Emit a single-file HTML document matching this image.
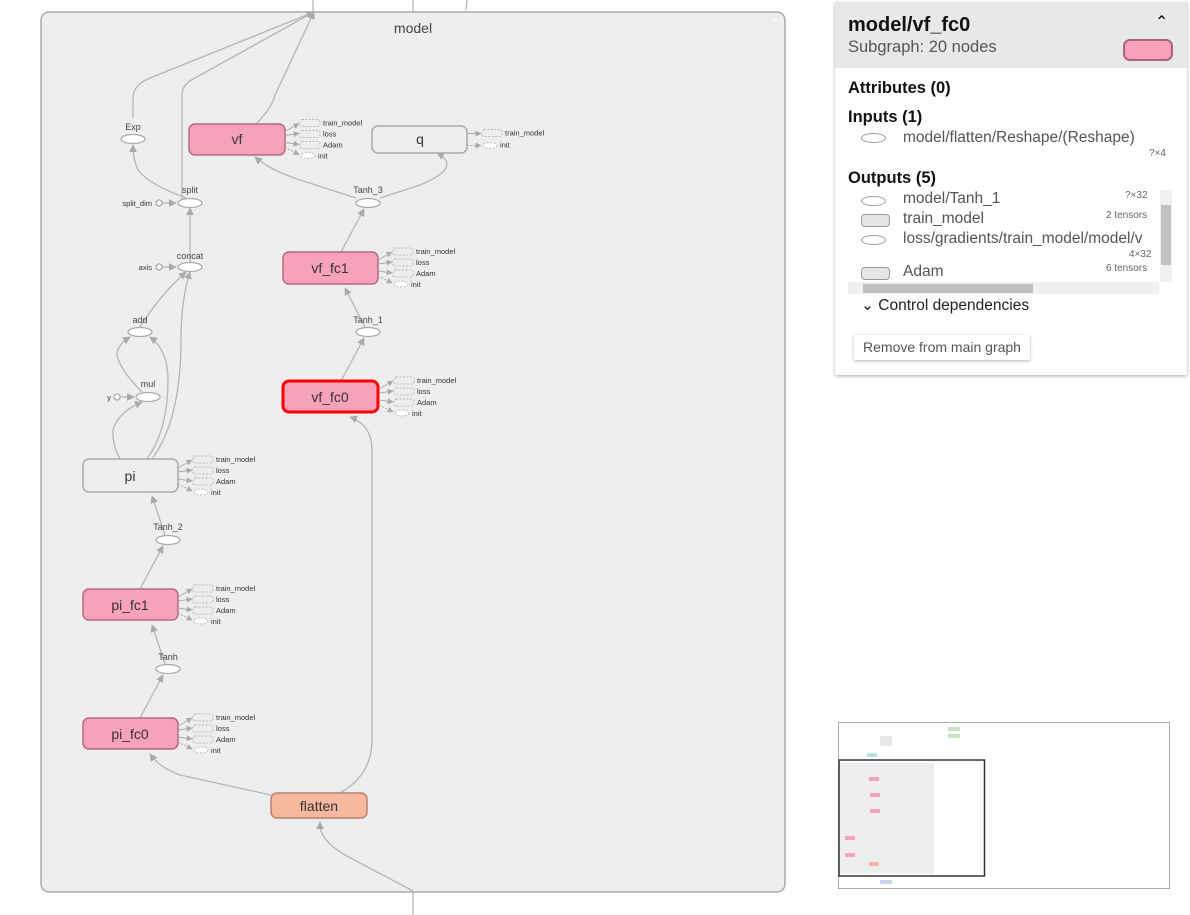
<!DOCTYPE html>
<html><head><meta charset="utf-8"><style>
body{margin:0;width:1190px;height:915px;overflow:hidden;background:#fff;font-family:"Liberation Sans",sans-serif;position:relative}
svg{position:absolute;left:0;top:0}
.panel{position:absolute;left:835px;top:2px;width:352px;height:373px;background:#fff;box-shadow:0 1px 3px rgba(0,0,0,.35);}
.hdr{background:#e8e8e8;height:66px;position:relative}
.t1{position:absolute;left:13px;top:12px;font-size:20px;font-weight:bold;color:#111}
.t2{position:absolute;left:13px;top:36px;font-size:16.5px;color:#555}
.sw{position:absolute;left:288px;top:37px;width:46px;height:18px;background:#f7a1bb;border:2px solid #a8677a;border-radius:7px}
.car{position:absolute;left:320px;top:10px;font-size:16px}
.h{position:absolute;left:13px;font-size:16.5px;font-weight:bold;color:#111}
.r{position:absolute;font-size:15.5px;color:#555}
.s{position:absolute;font-size:10px;color:#666}
.el{position:absolute;width:23px;height:8px;border:1px solid #999;border-radius:50%}
.rr{position:absolute;width:27px;height:11px;border:1px solid #999;border-radius:4px;background:#e6e6e6}
</style></head><body>
<svg width="1190" height="915" viewBox="0 0 1190 915">
<defs><marker id="a" viewBox="0 0 10 10" refX="9" refY="5" markerWidth="6" markerHeight="6" orient="auto"><path d="M0,0L10,5L0,10z" fill="#aaa"/></marker></defs>
<rect x="41" y="12" width="744" height="880" rx="8" fill="#eee" stroke="#aaa" stroke-width="1.5"/>
<text x="413" y="33" font-size="14" fill="#444" text-anchor="middle">model</text>
<line x1="772" y1="20" x2="778" y2="20" stroke="#fff"/>
<g fill="none" stroke="#b5b5b5" stroke-width="1.3">
<line x1="313" y1="0" x2="313" y2="12"/><line x1="413" y1="0" x2="413" y2="12"/><line x1="467" y1="0" x2="466" y2="10"/>
<path d="M133,118 L133,98 Q133,85 150,78 L314,12" marker-end="url(#a)"/>
<path d="M182,200 L182,95 Q182,84 195,78 L314,12" marker-end="url(#a)"/>
<path d="M256,124 Q272,108 275,95 L314,12" marker-end="url(#a)"/>
<path d="M186,198 Q150,185 138,170 Q133,160 133,145" marker-end="url(#a)"/>
<path d="M190,262 L190,208" marker-end="url(#a)"/>
<path d="M140,327 Q160,295 186,272" marker-end="url(#a)"/>
<path d="M152,459 Q181,420 181,340 Q181,300 190,272" marker-end="url(#a)"/>
<path d="M147,459 Q168,430 168,380 Q168,350 150,337" marker-end="url(#a)"/>
<path d="M142,392 Q120,370 117,355 Q117,345 130,337" marker-end="url(#a)"/>
<path d="M120,459 Q112,445 113,430 Q118,412 142,402" marker-end="url(#a)"/>
<path d="M165,535 L152,496" marker-end="url(#a)"/>
<path d="M140,589 L163,546" marker-end="url(#a)"/>
<path d="M165,664 L152,625" marker-end="url(#a)"/>
<path d="M140,718 L163,675" marker-end="url(#a)"/>
<path d="M271,795 L180,775 Q160,768 150,754" marker-end="url(#a)"/>
<path d="M340,793 Q372,775 372,740 L372,450 Q372,425 350,417" marker-end="url(#a)"/>
<path d="M413,915 L413,891 L345,855 Q320,840 320,825 L320,822" marker-end="url(#a)"/>
<path d="M341,381 L364,338" marker-end="url(#a)"/>
<path d="M365,327 L345,288" marker-end="url(#a)"/>
<path d="M341,252 L364,209" marker-end="url(#a)"/>
<path d="M356,198 L300,180 Q270,170 255,157" marker-end="url(#a)"/>
<path d="M380,198 L420,185 Q445,175 447,165 Q447,158 437,153" marker-end="url(#a)"/>
<line x1="162" y1="203" x2="176" y2="203" marker-end="url(#a)"/>
<line x1="162" y1="267" x2="176" y2="267" marker-end="url(#a)"/>
<line x1="120" y1="397" x2="134" y2="397" marker-end="url(#a)"/>
</g>
<g font-size="9" fill="#444" text-anchor="middle">
<text x="133" y="130">Exp</text><text x="190" y="193">split</text><text x="190" y="259">concat</text>
<text x="140" y="323">add</text><text x="148" y="387">mul</text><text x="368" y="193">Tanh_3</text>
<text x="368" y="323">Tanh_1</text><text x="168" y="530">Tanh_2</text><text x="168" y="660">Tanh</text>
</g>
<g font-size="7.5" fill="#333" text-anchor="end">
<text x="152" y="206">split_dim</text><text x="152" y="270">axis</text><text x="111" y="400">y</text>
</g>
<g fill="#fff" stroke="#aaa" stroke-width="1.3">
<ellipse cx="133" cy="139" rx="12" ry="4.5"/><ellipse cx="190" cy="203" rx="12" ry="4.5"/>
<ellipse cx="190" cy="267" rx="12" ry="4.5"/><ellipse cx="140" cy="332" rx="12" ry="4.5"/>
<ellipse cx="148" cy="397" rx="12" ry="4.5"/><ellipse cx="368" cy="203" rx="12" ry="4.5"/>
<ellipse cx="368" cy="332" rx="12" ry="4.5"/><ellipse cx="168" cy="540" rx="12" ry="4.5"/>
<ellipse cx="168" cy="669" rx="12" ry="4.5"/>
<circle cx="159" cy="203" r="3"/><circle cx="159" cy="267" r="3"/><circle cx="117" cy="397" r="3"/>
</g>
<g stroke-width="1.5">
<rect x="189" y="124" width="96" height="31" rx="6" fill="#f8a1bb" stroke="#b06a7e"/>
<rect x="372" y="126" width="95" height="27" rx="6" fill="#eee" stroke="#aaa"/>
<rect x="283" y="252" width="95" height="32" rx="6" fill="#f8a1bb" stroke="#b06a7e"/>
<rect x="283" y="381" width="95" height="31" rx="6" fill="#f8a1bb" stroke="#f00" stroke-width="3"/>
<rect x="83" y="459" width="95" height="33" rx="6" fill="#eee" stroke="#aaa"/>
<rect x="83" y="589" width="95" height="31" rx="6" fill="#f8a1bb" stroke="#b06a7e"/>
<rect x="83" y="718" width="95" height="31" rx="6" fill="#f8a1bb" stroke="#b06a7e"/>
<rect x="271" y="793" width="96" height="25" rx="6" fill="#f7b8a0" stroke="#b98070"/>
</g>
<g font-size="14" fill="#333" text-anchor="middle">
<text x="237" y="144">vf</text><text x="420" y="144">q</text><text x="330" y="273">vf_fc1</text>
<text x="330" y="402">vf_fc0</text><text x="130" y="481">pi</text><text x="130" y="610">pi_fc1</text>
<text x="130" y="739">pi_fc0</text><text x="319" y="811">flatten</text>
</g>
<!-- annotations -->
<g font-size="7.5" fill="#333" stroke-width="1">
<g transform="translate(285,139.5)">
<g fill="none" stroke="#bbb" stroke-dasharray="2,1.5"><rect x="15" y="-20" width="20" height="7" rx="2"/><rect x="15" y="-9" width="20" height="7" rx="2"/><rect x="15" y="2" width="20" height="7" rx="2"/><ellipse cx="23" cy="16" rx="7" ry="3" fill="#fff"/></g>
<g stroke="#aaa" marker-end="url(#a)"><line x1="0" y1="-8" x2="14" y2="-16"/><line x1="0" y1="-4" x2="14" y2="-6"/><line x1="0" y1="3" x2="14" y2="5"/><line x1="0" y1="8" x2="14" y2="15" stroke-dasharray="2,1.5"/></g>
<text x="38" y="-14">train_model</text><text x="38" y="-3">loss</text><text x="38" y="8">Adam</text><text x="33" y="19">init</text></g>
<g transform="translate(378,268)">
<g fill="none" stroke="#bbb" stroke-dasharray="2,1.5"><rect x="15" y="-20" width="20" height="7" rx="2"/><rect x="15" y="-9" width="20" height="7" rx="2"/><rect x="15" y="2" width="20" height="7" rx="2"/><ellipse cx="23" cy="16" rx="7" ry="3" fill="#fff"/></g>
<g stroke="#aaa" marker-end="url(#a)"><line x1="0" y1="-8" x2="14" y2="-16"/><line x1="0" y1="-4" x2="14" y2="-6"/><line x1="0" y1="3" x2="14" y2="5"/><line x1="0" y1="8" x2="14" y2="15" stroke-dasharray="2,1.5"/></g>
<text x="38" y="-14">train_model</text><text x="38" y="-3">loss</text><text x="38" y="8">Adam</text><text x="33" y="19">init</text></g>
<g transform="translate(379,397)">
<g fill="none" stroke="#bbb" stroke-dasharray="2,1.5"><rect x="15" y="-20" width="20" height="7" rx="2"/><rect x="15" y="-9" width="20" height="7" rx="2"/><rect x="15" y="2" width="20" height="7" rx="2"/><ellipse cx="23" cy="16" rx="7" ry="3" fill="#fff"/></g>
<g stroke="#aaa" marker-end="url(#a)"><line x1="0" y1="-8" x2="14" y2="-16"/><line x1="0" y1="-4" x2="14" y2="-6"/><line x1="0" y1="3" x2="14" y2="5"/><line x1="0" y1="8" x2="14" y2="15" stroke-dasharray="2,1.5"/></g>
<text x="38" y="-14">train_model</text><text x="38" y="-3">loss</text><text x="38" y="8">Adam</text><text x="33" y="19">init</text></g>
<g transform="translate(178,476)">
<g fill="none" stroke="#bbb" stroke-dasharray="2,1.5"><rect x="15" y="-20" width="20" height="7" rx="2"/><rect x="15" y="-9" width="20" height="7" rx="2"/><rect x="15" y="2" width="20" height="7" rx="2"/><ellipse cx="23" cy="16" rx="7" ry="3" fill="#fff"/></g>
<g stroke="#aaa" marker-end="url(#a)"><line x1="0" y1="-8" x2="14" y2="-16"/><line x1="0" y1="-4" x2="14" y2="-6"/><line x1="0" y1="3" x2="14" y2="5"/><line x1="0" y1="8" x2="14" y2="15" stroke-dasharray="2,1.5"/></g>
<text x="38" y="-14">train_model</text><text x="38" y="-3">loss</text><text x="38" y="8">Adam</text><text x="33" y="19">init</text></g>
<g transform="translate(178,605)">
<g fill="none" stroke="#bbb" stroke-dasharray="2,1.5"><rect x="15" y="-20" width="20" height="7" rx="2"/><rect x="15" y="-9" width="20" height="7" rx="2"/><rect x="15" y="2" width="20" height="7" rx="2"/><ellipse cx="23" cy="16" rx="7" ry="3" fill="#fff"/></g>
<g stroke="#aaa" marker-end="url(#a)"><line x1="0" y1="-8" x2="14" y2="-16"/><line x1="0" y1="-4" x2="14" y2="-6"/><line x1="0" y1="3" x2="14" y2="5"/><line x1="0" y1="8" x2="14" y2="15" stroke-dasharray="2,1.5"/></g>
<text x="38" y="-14">train_model</text><text x="38" y="-3">loss</text><text x="38" y="8">Adam</text><text x="33" y="19">init</text></g>
<g transform="translate(178,734)">
<g fill="none" stroke="#bbb" stroke-dasharray="2,1.5"><rect x="15" y="-20" width="20" height="7" rx="2"/><rect x="15" y="-9" width="20" height="7" rx="2"/><rect x="15" y="2" width="20" height="7" rx="2"/><ellipse cx="23" cy="16" rx="7" ry="3" fill="#fff"/></g>
<g stroke="#aaa" marker-end="url(#a)"><line x1="0" y1="-8" x2="14" y2="-16"/><line x1="0" y1="-4" x2="14" y2="-6"/><line x1="0" y1="3" x2="14" y2="5"/><line x1="0" y1="8" x2="14" y2="15" stroke-dasharray="2,1.5"/></g>
<text x="38" y="-14">train_model</text><text x="38" y="-3">loss</text><text x="38" y="8">Adam</text><text x="33" y="19">init</text></g>
<g transform="translate(467,139.5)">
<g fill="none" stroke="#bbb" stroke-dasharray="2,1.5"><rect x="15" y="-10" width="20" height="7" rx="2"/><ellipse cx="23" cy="6" rx="7" ry="3" fill="#fff"/></g>
<g stroke="#aaa" marker-end="url(#a)"><line x1="0" y1="-6" x2="14" y2="-6"/><line x1="0" y1="6" x2="14" y2="6" stroke-dasharray="2,1.5"/></g>
<text x="38" y="-4">train_model</text><text x="33" y="8">init</text></g>
</g>
<!-- minimap -->
<rect x="838.5" y="722.5" width="331" height="166" fill="#fff" stroke="#aaa"/>
<rect x="839" y="763" width="95" height="111" fill="#eee"/>
<g fill="#f8a1bb"><rect x="869" y="777" width="10" height="4"/><rect x="870" y="793" width="10" height="4"/><rect x="870" y="809" width="10" height="4"/><rect x="845" y="836" width="10" height="4"/><rect x="845" y="853" width="10" height="4"/></g>
<rect x="869" y="862" width="10" height="4" fill="#f7b8a0"/>
<rect x="867" y="753" width="10" height="4" fill="#b8dede"/>
<rect x="880" y="880" width="12" height="4" fill="#c8d4ec"/>
<rect x="948" y="727" width="12" height="4" fill="#c8e4c0"/><rect x="948" y="734" width="12" height="4" fill="#c8e4c0"/>
<rect x="880" y="736" width="12" height="10" fill="#e8e8e8"/>
<rect x="839" y="760" width="145.5" height="116" fill="none" stroke="#333" stroke-width="1.5"/>
</svg>
<div class="panel">
<div class="hdr"><div class="t1">model/vf_fc0</div><div class="t2">Subgraph: 20 nodes</div><div class="car">&#8963;</div><div class="sw"></div></div>
<div class="h" style="top:77px">Attributes (0)</div>
<div class="h" style="top:106px">Inputs (1)</div>
<div class="el" style="left:26px;top:131px"></div><div class="r" style="left:68px;top:127px">model/flatten/Reshape/(Reshape)</div>
<div class="s" style="left:314px;top:146px">?×4</div>
<div class="h" style="top:167px">Outputs (5)</div>
<div style="position:absolute;left:13px;top:188px;width:312px;height:104px;overflow:hidden">
<div class="el" style="left:13px;top:6px"></div><div class="r" style="left:55px;top:0">model/Tanh_1</div><div class="s" style="left:277px;top:0">?×32</div>
<div class="rr" style="left:13px;top:24px"></div><div class="r" style="left:55px;top:20px">train_model</div><div class="s" style="left:258px;top:20px">2 tensors</div>
<div class="el" style="left:13px;top:45px"></div><div class="r" style="left:55px;top:40px;white-space:nowrap">loss/gradients/train_model/model/v</div><div class="s" style="left:281px;top:59px">4×32</div>
<div class="rr" style="left:13px;top:77px"></div><div class="r" style="left:55px;top:73px">Adam</div><div class="s" style="left:258px;top:73px">6 tensors</div>
<div style="position:absolute;left:0;top:92px;width:311px;height:12px;background:#f0f0f0"></div>
<div style="position:absolute;left:15px;top:94px;width:170px;height:9px;background:#c1c1c1"></div>
</div>
<div style="position:absolute;left:325px;top:188px;width:12px;height:92px;background:#f0f0f0"><div style="position:absolute;left:1px;top:15px;width:10px;height:60px;background:#c1c1c1"></div></div>
<div class="r" style="left:26px;top:294px;color:#222">&#8964; Control dependencies</div>
<div style="position:absolute;left:19px;top:333px;width:176px;height:25px;box-shadow:0 1px 3px rgba(0,0,0,.3);border-radius:2px;font-size:14px;color:#555;line-height:25px;text-align:center">Remove from main graph</div>
</div>
</body></html>
